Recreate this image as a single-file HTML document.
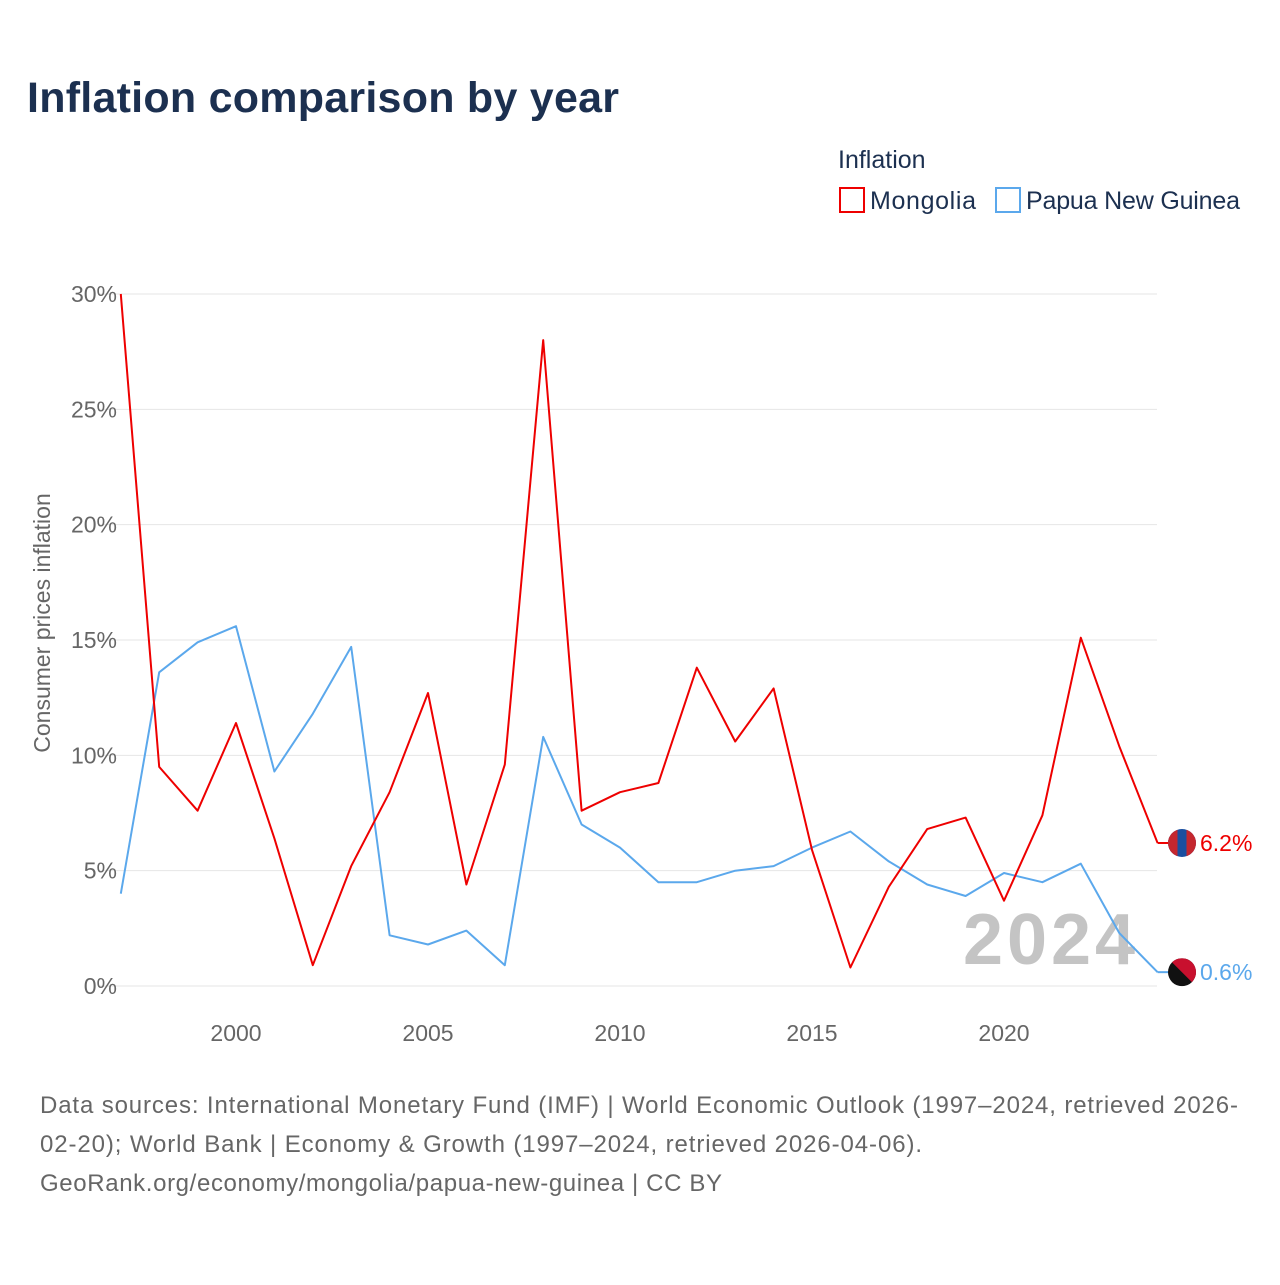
<!DOCTYPE html>
<html><head><meta charset="utf-8"><style>
body{margin:0;background:#fff;font-family:"Liberation Sans",sans-serif;}
#wrap{position:relative;width:1280px;height:1280px;}
</style></head><body>
<div id="wrap">
<svg id="chart" width="1280" height="1280" xmlns="http://www.w3.org/2000/svg">
<defs><clipPath id="cm"><circle cx="1182" cy="843" r="14"/></clipPath><clipPath id="cp"><circle cx="1182" cy="972" r="14"/></clipPath></defs>
<text x="27" y="112" font-size="43" font-weight="bold" fill="#1c3050" textLength="592">Inflation comparison by year</text>
<text x="838" y="168" font-size="25" fill="#1c3050">Inflation</text>
<g><rect x="840" y="188" width="24" height="24" fill="none" stroke="#ee0000" stroke-width="2"/><text x="870" y="209" font-size="25" fill="#1c3050" textLength="106">Mongolia</text></g>
<g><rect x="996" y="188" width="24" height="24" fill="none" stroke="#5ba8ec" stroke-width="2"/><text x="1026" y="209" font-size="25" fill="#1c3050" textLength="214">Papua New Guinea</text></g>
<text transform="translate(50,623) rotate(-90)" text-anchor="middle" font-size="23" fill="#666">Consumer prices inflation</text>
<g id="grid"></g><g id="ticks"></g>
<text x="963" y="964" font-size="72" font-weight="bold" fill="#c4c4c4" textLength="172">2024</text>
<g id="series"></g>
<text x="40" y="1113" font-size="24" fill="#666" textLength="1198">Data sources: International Monetary Fund (IMF) | World Economic Outlook (1997–2024, retrieved 2026-</text>
<text x="40" y="1152" font-size="24" fill="#666" textLength="882">02-20); World Bank | Economy &amp; Growth (1997–2024, retrieved 2026-04-06).</text>
<text x="40" y="1191" font-size="24" fill="#666" textLength="682">GeoRank.org/economy/mongolia/papua-new-guinea | CC BY</text>
</svg></div>
<script>
const years=[1997,1998,1999,2000,2001,2002,2003,2004,2005,2006,2007,2008,2009,2010,2011,2012,2013,2014,2015,2016,2017,2018,2019,2020,2021,2022,2023,2024];
const mongolia=[30.0,9.5,7.6,11.4,6.4,0.9,5.2,8.4,12.7,4.4,9.6,28.0,7.6,8.4,8.8,13.8,10.6,12.9,5.9,0.8,4.3,6.8,7.3,3.7,7.4,15.1,10.4,6.2];
const png=[4.0,13.6,14.9,15.6,9.3,11.8,14.7,2.2,1.8,2.4,0.9,10.8,7.0,6.0,4.5,4.5,5.0,5.2,6.0,6.7,5.4,4.4,3.9,4.9,4.5,5.3,2.3,0.6];
const yTicks=[0,5,10,15,20,25,30];
const xTicks=[2000,2005,2010,2015,2020];
const NS="http://www.w3.org/2000/svg";
const x=v=>120.8+(v-1997)*38.4;
const y=v=>986-v*23.067;
function mk(t,a,p){const e=document.createElementNS(NS,t);for(const k in a)e.setAttribute(k,a[k]);p.appendChild(e);return e;}
const grid=document.getElementById('grid'),ticks=document.getElementById('ticks'),ser=document.getElementById('series');
yTicks.forEach(t=>{
 const l=mk('line',{x1:98,x2:1157,y1:y(t),y2:y(t),stroke:'#e6e6e6','stroke-width':1},grid);
 
 
 const tx=mk('text',{x:117,y:y(t)+8,'text-anchor':'end','font-size':23,fill:'#666'},ticks);
 tx.textContent=t+'%';
 
 
});
xTicks.forEach(t=>{
 const tx=mk('text',{x:x(t),y:1041,'text-anchor':'middle','font-size':23,fill:'#666'},ticks);
 tx.textContent=t;
 
 
});
function line(vals,col,name){
 const d=vals.map((v,i)=>(i?'L':'M')+x(years[i]).toFixed(1)+' '+y(v).toFixed(1)).join(' ');
 const p=mk('path',{d:d,fill:'none',stroke:col,'stroke-width':2,'stroke-linejoin':'round'},ser);
 
 
 const last=vals[vals.length-1],ly=y(last);
 mk('line',{x1:x(2024),x2:1170,y1:ly,y2:ly,stroke:col,'stroke-width':2},ser);
 const g=mk('g',{'clip-path':name==='mongolia'?'url(#cm)':'url(#cp)',transform:`translate(0 ${(ly-(name==='mongolia'?843:972)).toFixed(1)})`},ser);
 
 
 const cy=name==='mongolia'?843:972;
 if(name==='mongolia'){
  mk('rect',{x:1168,y:cy-14,width:28,height:28,fill:'#1a4fa0'},g);
  mk('rect',{x:1168,y:cy-14,width:9.5,height:28,fill:'#c4272f'},g);
  mk('rect',{x:1186.5,y:cy-14,width:9.5,height:28,fill:'#c4272f'},g);
 } else {
  mk('rect',{x:1168,y:cy-14,width:28,height:28,fill:'#111'},g);
  mk('path',{d:`M1168 ${cy-14} L1196 ${cy-14} L1196 ${cy+14} Z`,fill:'#c8102e'},g);
 }
 const t=mk('text',{x:1200,y:ly+8,'font-size':23,fill:col},ser);
 t.textContent=last.toFixed(1)+'%';
 
 
}
line(png,'#5ba8ec','png');
line(mongolia,'#ee0000','mongolia');
</script>
</body></html>
